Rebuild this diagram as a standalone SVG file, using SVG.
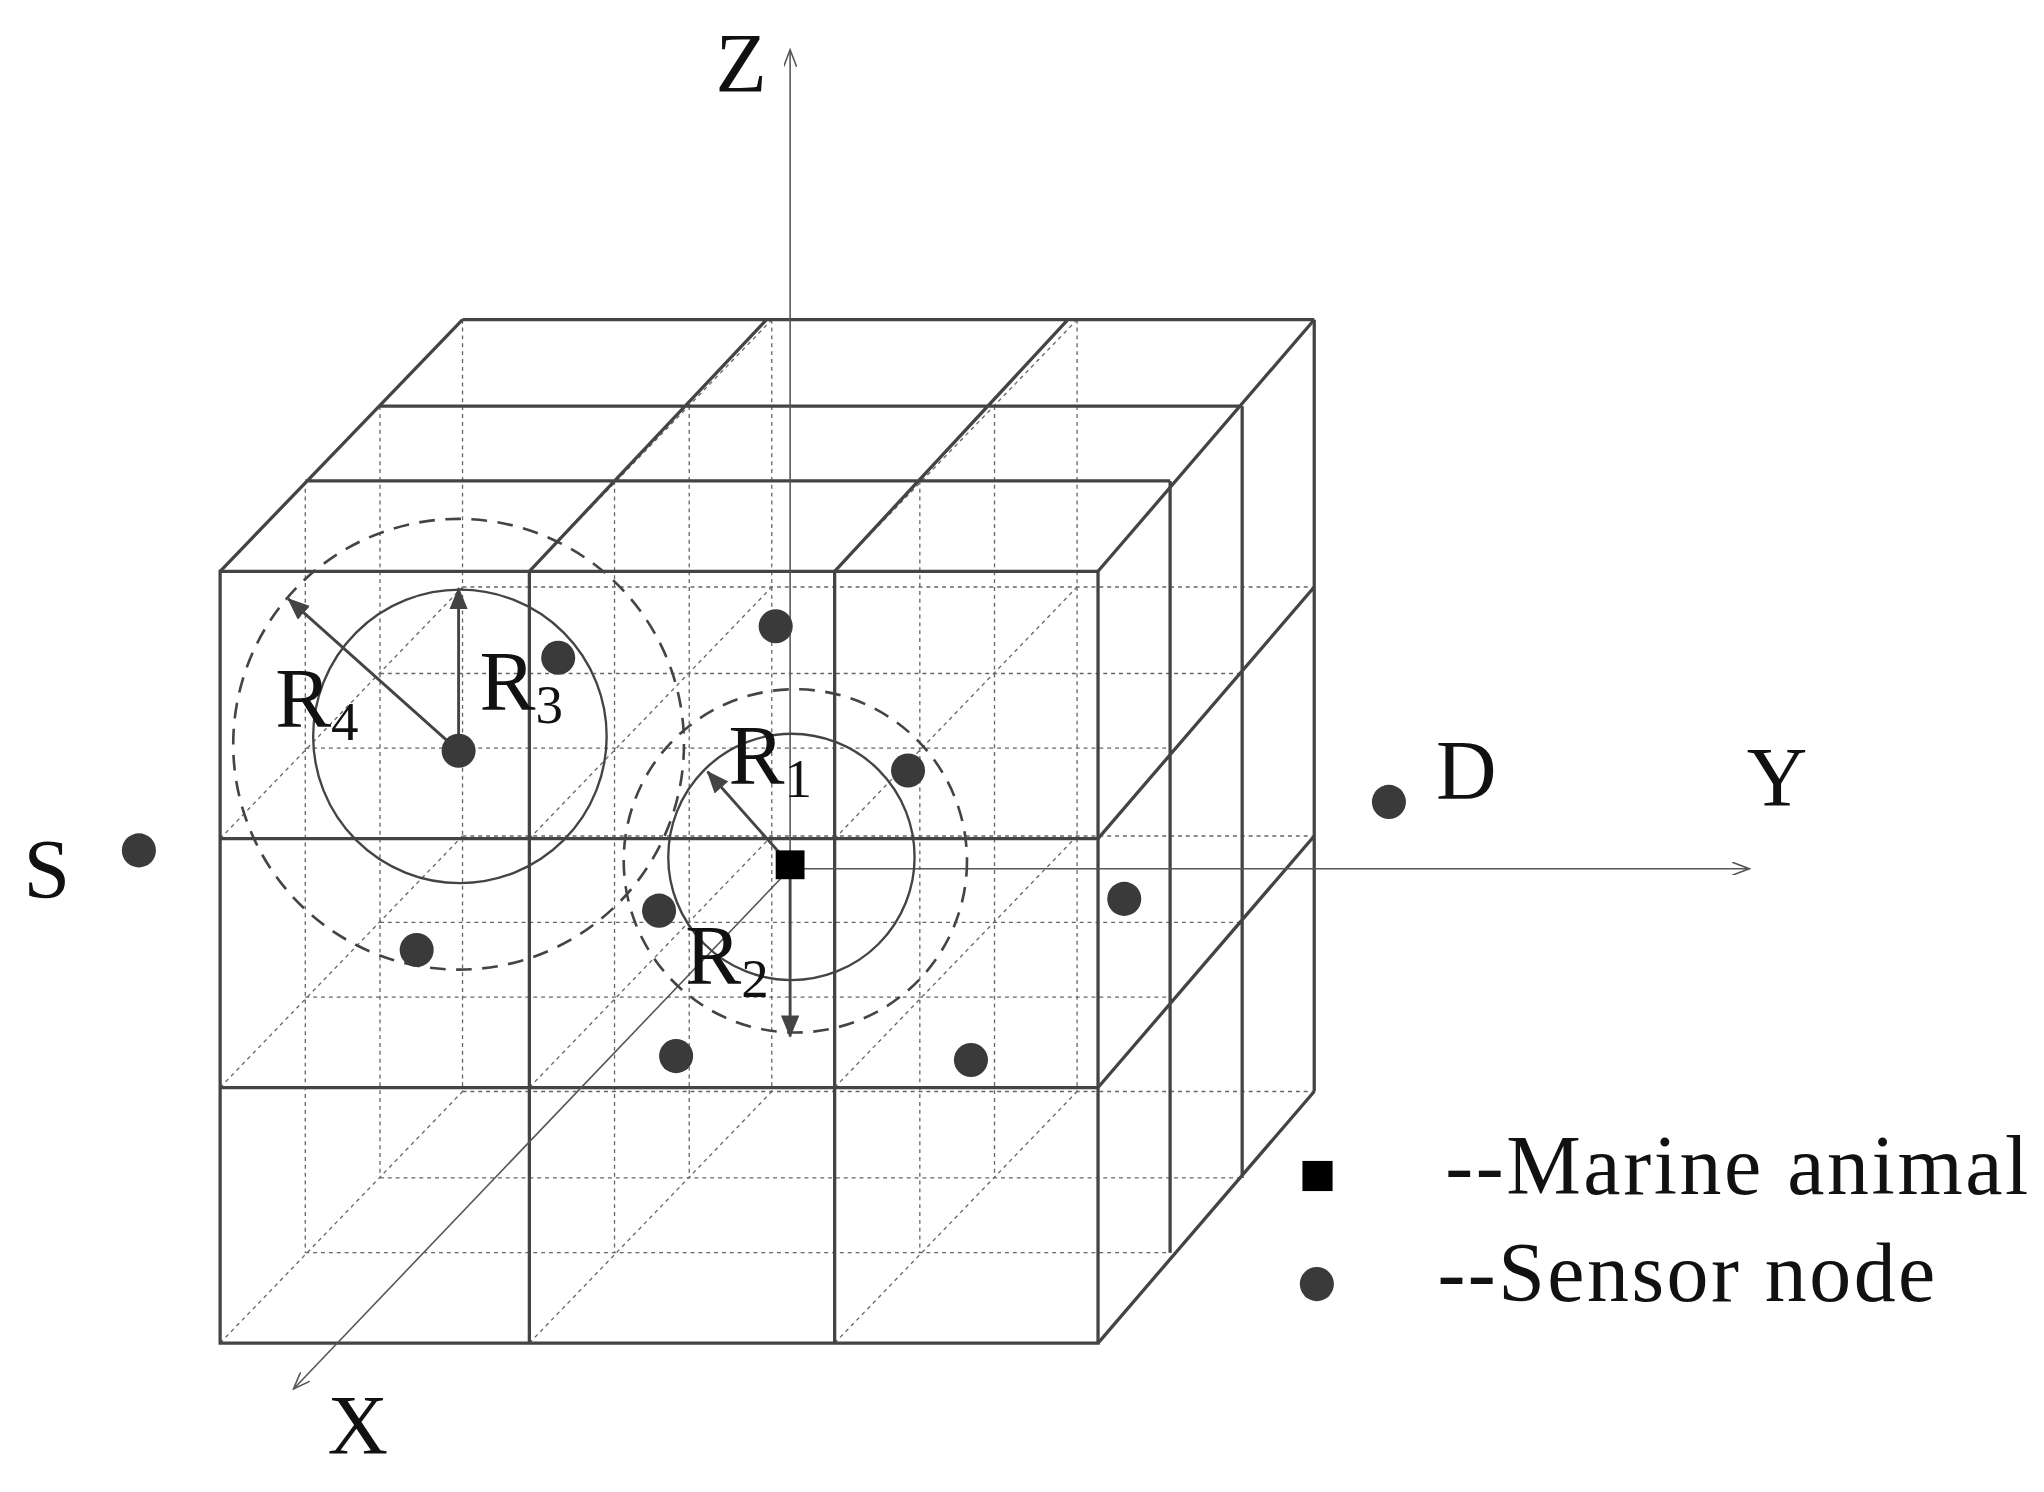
<svg xmlns="http://www.w3.org/2000/svg" width="2044" height="1492" viewBox="0 0 2044 1492">
<style>
.s{stroke:#444;stroke-width:2.5;fill:none}
.h{stroke:#666;stroke-width:1;fill:none;stroke-dasharray:3 3}
.ax{stroke:#555;stroke-width:1.2;fill:none}
.c{stroke:#444;stroke-width:1.8;fill:none}
.d{stroke:#444;stroke-width:2;fill:none;stroke-dasharray:12 8}
.ar{stroke:#444;stroke-width:2.2;fill:none}
.dot{fill:#3a3a3a}
text{font-family:"Liberation Serif",serif;fill:#111}
.t{font-size:64px}
.sub{font-size:42px}
</style>
<defs>
<marker id="open" markerWidth="14" markerHeight="10" refX="13" refY="5" orient="auto" markerUnits="userSpaceOnUse"><path d="M0 0 L13 5 L0 10" fill="none" stroke="#555" stroke-width="1.2"/></marker>
<marker id="fill" markerWidth="18" markerHeight="14" refX="16" refY="7" orient="auto" markerUnits="userSpaceOnUse"><path d="M0 0 L17 7 L0 14 z" fill="#444"/></marker>
</defs>
<rect width="2044" height="1492" fill="#fff"/>
<g transform="scale(1.3103)">
<g id="grid">
<path class="h" d="M233 367V956M469 367V956M702 367V956M893 367V956M290 310V899M526 310V899M759 310V899M948 310V899M353 244V833M589 244V833M822 244V833M1003 244V833M233 367H893M233 571H893M233 761H893M233 956H893M290 310H948M290 514H948M290 704H948M290 899H948M353 244H1003M353 448H1003M353 638H1003M353 833H1003"/>
<path class="h" d="M168 436l185 -192M404 436l185 -192M637 436l185 -192M168 640l185 -192M404 640l185 -192M637 640l185 -192M168 830l185 -192M404 830l185 -192M637 830l185 -192M168 1025l185 -192M404 1025l185 -192M637 1025l185 -192"/>
<path class="s" d="M168 436H838V1025H168ZM404 436V1025M637 436V1025M168 640H838M168 830H838"/>
<path class="s" d="M168 436l185 -192M404 436l181 -192M637 436l178 -192M838 436l165 -192M233 367H893M290 310H948M353 244H1003"/>
<path class="s" d="M838 640l165 -192M838 830l165 -192M838 1025l165 -192M893 367V956M948 310V899M1003 244V833"/>
</g>
<g id="connectors">
<line class="ax" x1="603" y1="663" x2="603" y2="38" marker-end="url(#open)"/>
<line class="ax" x1="603" y1="663" x2="1335" y2="663" marker-end="url(#open)"/>
<line class="ax" x1="603" y1="663" x2="224" y2="1060" marker-end="url(#open)"/>
<circle class="c" cx="351" cy="562" r="112"/>
<circle class="d" cx="350" cy="568" r="172"/>
<circle class="c" cx="604" cy="654" r="94"/>
<circle class="d" cx="607" cy="657" r="131"/>
<line class="ar" x1="350" y1="573" x2="220" y2="457" marker-end="url(#fill)"/>
<line class="ar" x1="350" y1="573" x2="350" y2="449" marker-end="url(#fill)"/>
<line class="ar" x1="603" y1="660" x2="540" y2="589" marker-end="url(#fill)"/>
<line class="ar" x1="603" y1="660" x2="603" y2="791" marker-end="url(#fill)"/>
</g>
<g id="nodes">
<rect id="animal" x="592" y="649" width="22" height="22" fill="#000"/>
<circle class="dot" cx="592" cy="478" r="13"/>
<circle class="dot" cx="426" cy="502" r="13"/>
<circle class="dot" cx="350" cy="573" r="13"/>
<circle class="dot" cx="693" cy="588" r="13"/>
<circle class="dot" cx="503" cy="695" r="13"/>
<circle class="dot" cx="318" cy="725" r="13"/>
<circle class="dot" cx="858" cy="686" r="13"/>
<circle class="dot" cx="516" cy="806" r="13"/>
<circle class="dot" cx="741" cy="809" r="13"/>
<circle id="S" class="dot" cx="106" cy="649" r="13"/>
<circle id="D" class="dot" cx="1060" cy="612" r="13"/>
</g>
<g id="labels">
<text class="t" x="546" y="70">Z</text>
<text class="t" x="1333" y="615">Y</text>
<text class="t" x="250" y="1110">X</text>
<text class="t" x="18" y="685">S</text>
<text class="t" x="1096" y="610">D</text>
<text class="t" x="210" y="555">R<tspan class="sub" dy="10">4</tspan></text>
<text class="t" x="366" y="542">R<tspan class="sub" dy="10">3</tspan></text>
<text class="t" x="556" y="598">R<tspan class="sub" dy="10">1</tspan></text>
<text class="t" x="523" y="751">R<tspan class="sub" dy="10">2</tspan></text>
</g>
<g id="legend">
<rect x="994" y="886" width="23" height="23" fill="#000"/>
<circle class="dot" cx="1005" cy="980" r="13"/>
<text class="t" x="1103" y="911" textLength="445">--Marine animal</text>
<text class="t" x="1097" y="993" textLength="380">--Sensor node</text>
</g>
</g>
</svg>
